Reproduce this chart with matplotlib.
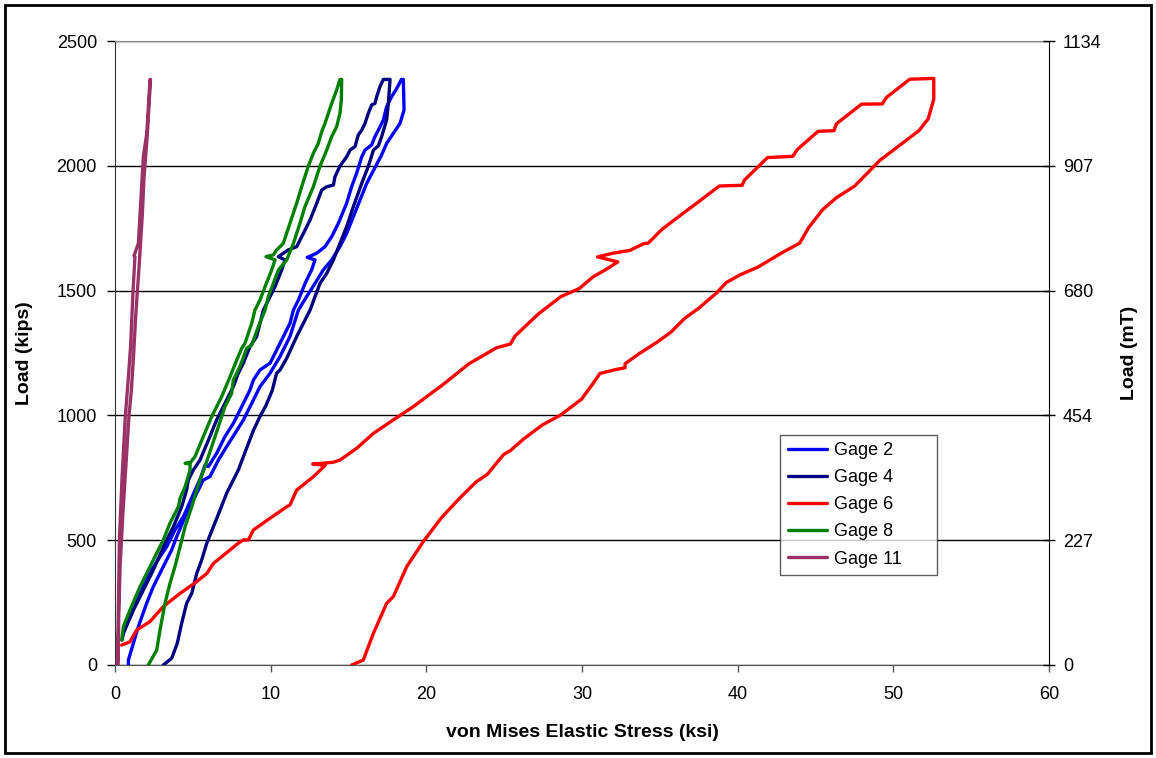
import matplotlib
matplotlib.use("Agg")
import matplotlib.pyplot as plt
from matplotlib.patches import Rectangle

plt.rcParams["font.family"] = ["Liberation Sans", "DejaVu Sans"]

# ---- data: (stress ksi, load kips), loading then unloading ----
gage2_stress = [0.54, 0.75, 1.28, 1.82, 2.36, 2.89, 3.32, 3.85, 4.39, 5.0, 5.5, 5.78, 6.0, 6.53,
                7.06, 7.6, 8.14, 8.67, 8.89, 9.31, 9.96, 10.6, 11.24, 11.46, 11.78, 12.21, 12.63,
                12.85, 12.35, 12.96, 13.49, 13.92, 14.35, 14.88, 15.2, 15.52, 15.85, 16.06, 16.49,
                16.7, 16.92, 17.24, 17.45, 17.77, 18.1, 18.4,
                18.52, 18.57, 18.31, 17.88, 17.45, 17.1, 16.75, 16.17, 15.74, 15.31, 14.88, 14.45,
                13.92, 13.38, 12.85, 12.31, 11.78, 11.24, 10.6, 9.96, 9.31, 8.78, 8.25, 7.71, 7.17,
                6.64, 6.1, 5.67, 5.25, 4.93, 4.5, 3.96, 3.64, 3.1, 2.46, 2.03, 1.5, 1.18, 0.86, 0.86]
gage2_load = [127, 180, 247, 314, 381, 434, 474, 541, 594, 680, 750, 801, 795, 848,
              915, 968, 1035, 1102, 1142, 1182, 1209, 1289, 1369, 1422, 1462, 1529, 1583,
              1623, 1633, 1650, 1676, 1716, 1770, 1850, 1916, 1970, 2036, 2063, 2084,
              2117, 2143, 2184, 2237, 2277, 2310, 2346,
              2346, 2224, 2170, 2130, 2090, 2040, 1999, 1930, 1863, 1796, 1729, 1676,
              1623, 1583, 1529, 1476, 1422, 1316, 1236, 1169, 1115, 1048, 982, 928, 875,
              821, 755, 741, 688, 648, 594, 514, 461, 394, 314, 247, 154, 87, 20, 0]

gage4_stress = [0.45, 0.54, 1.18, 1.82, 2.46, 3.21, 3.75, 4.28, 4.6, 4.71, 5.03, 5.46, 6.0, 6.53,
                7.17, 7.6, 7.92, 8.24, 8.67, 9.1, 9.53, 9.85, 10.28, 10.71, 10.92, 10.49, 11.13,
                11.67, 12.1, 12.53, 12.96, 13.28, 13.6, 14.03, 14.13, 14.45, 14.88, 15.1, 15.42,
                15.63, 15.85, 16.06, 16.27, 16.49, 16.7, 16.81, 17.02, 17.24,
                17.67, 17.56, 17.45, 17.13, 16.92, 16.6, 16.28, 15.85, 15.31, 14.88, 14.45, 14.03,
                13.6, 13.17, 12.85, 12.53, 12.1, 11.67, 11.03, 10.6, 10.38, 10.1, 9.7, 9.31, 8.89,
                8.4, 7.92, 7.6, 7.17, 6.75, 6.32, 5.89, 5.57, 5.25, 4.93, 4.6, 4.28, 4.0, 3.64, 3.1]
gage4_load = [100, 127, 220, 300, 381, 487, 554, 634, 701, 741, 781, 821, 901, 982,
              1062, 1115, 1169, 1209, 1275, 1316, 1422, 1462, 1516, 1583, 1623, 1636, 1663,
              1676, 1729, 1783, 1850, 1903, 1916, 1923, 1956, 1999, 2036, 2063, 2077,
              2124, 2143, 2170, 2210, 2244, 2250, 2277, 2317, 2346,
              2346, 2250, 2184, 2117, 2080, 2063, 1999, 1930, 1836, 1756, 1689, 1623,
              1569, 1529, 1476, 1422, 1369, 1316, 1229, 1182, 1169, 1100, 1040, 995, 940,
              860, 781, 741, 688, 621, 554, 487, 421, 367, 287, 247, 167, 87, 27, 0]

gage6_stress = [0.43, 0.96, 1.39, 2.25, 3.1, 4.18, 5.25, 5.9, 6.32, 7.39, 7.92, 8.24, 8.57, 8.89,
                9.96, 11.03, 11.24, 11.67, 12.74, 13.5, 12.7, 14.0, 14.45, 15.52, 16.6, 17.88,
                19.16, 20.45, 21.0, 22.74, 24.51, 25.4, 25.7, 27.17, 28.64, 29.82, 30.71, 31.6,
                32.3, 31.0, 32.0, 33.07, 33.96, 34.25, 35.13, 36.31, 37.49, 38.82, 40.29, 40.44,
                41.03, 41.92, 43.54, 43.83, 45.16, 46.19, 46.34, 47.96, 49.29, 49.58, 51.06, 52.54,
                52.6, 52.6, 52.24, 51.65, 50.47, 49.14, 47.52, 46.34, 45.46, 44.57, 43.98, 42.8,
                41.33, 40.15, 39.26, 38.67, 37.49, 36.6, 35.72, 34.84, 33.66, 32.77, 32.77, 32.18,
                31.15, 30.71, 29.97, 28.64, 27.46, 26.28, 25.4, 24.96, 23.92, 23.19, 22.15, 20.97,
                19.8, 18.74, 17.88, 17.45, 16.6, 15.95, 15.2]
gage6_load = [80, 93, 140, 174, 234, 287, 334, 367, 407, 461, 488, 501, 501, 541,
              588, 634, 641, 701, 754, 800, 805, 812, 821, 868, 928, 982,
              1035, 1095, 1120, 1207, 1271, 1286, 1318, 1405, 1476, 1508, 1555, 1587,
              1615, 1635, 1650, 1661, 1688, 1690, 1745, 1801, 1856, 1919, 1922, 1943,
              1979, 2033, 2038, 2065, 2138, 2141, 2168, 2247, 2248, 2275, 2347, 2350,
              2350, 2267, 2188, 2141, 2085, 2022, 1919, 1872, 1824, 1753, 1690, 1650,
              1595, 1563, 1532, 1492, 1429, 1389, 1334, 1294, 1247, 1207, 1191, 1184,
              1168, 1128, 1065, 1002, 962, 907, 859, 843, 764, 733, 669, 590,
              494, 394, 274, 247, 127, 20, 0]

gage8_stress = [0.43, 0.54, 0.96, 1.61, 2.25, 2.78, 3.1, 3.53, 4.07, 4.18, 4.5, 4.82, 4.82, 4.5,
                4.85, 5.14, 5.67, 6.21, 6.85, 7.39, 7.82, 8.14, 8.35, 8.78, 8.99, 9.31, 9.64,
                10.06, 10.28, 9.7, 10.17, 10.39, 10.81, 11.24, 11.67, 11.99, 12.42, 12.74, 13.06,
                13.28, 13.49, 13.81, 13.92, 14.24, 14.45,
                14.56, 14.54, 14.45, 14.24, 13.92, 13.6, 13.17, 12.74, 12.2, 11.88, 11.46, 11.03,
                10.49, 10.17, 9.85, 9.64, 9.21, 8.78, 8.46, 8.03, 7.6, 7.49, 7.06, 6.64, 6.21,
                5.78, 5.46, 5.25, 4.93, 4.5, 4.18, 3.85, 3.53, 3.21, 2.89, 2.68, 2.14]
gage8_load = [100, 154, 220, 314, 394, 461, 501, 568, 634, 668, 714, 781, 806, 808,
              812, 835, 915, 995, 1075, 1155, 1222, 1269, 1289, 1369, 1422, 1462, 1516,
              1582, 1623, 1636, 1643, 1663, 1689, 1770, 1850, 1916, 1999, 2050, 2090,
              2137, 2170, 2230, 2250, 2304, 2346,
              2346, 2264, 2210, 2157, 2117, 2063, 1999, 1916, 1836, 1770, 1689, 1623,
              1582, 1529, 1476, 1422, 1356, 1282, 1269, 1196, 1142, 1088, 1035, 955, 875,
              795, 741, 701, 634, 554, 474, 394, 327, 247, 140, 60, 0]

gage11_stress = [0.15, 0.2, 0.28, 0.45, 0.66, 0.86, 1.0, 1.15, 1.28, 1.22, 1.5, 1.71, 1.82,
                 2.04, 2.25, 2.28, 2.08, 1.86, 1.75, 1.55, 1.33, 1.2, 1.05, 0.9, 0.7, 0.5,
                 0.33, 0.24, 0.2]
gage11_load = [0, 150, 500, 750, 995, 1155, 1275, 1489, 1636, 1640, 1689, 1916, 2037,
               2130, 2346, 2346, 2130, 1950, 1800, 1600, 1400, 1250, 1100, 1000, 800, 600,
               400, 200, 0]

series = [
    ("Gage 2", gage2_stress, gage2_load, "#0000FF"),
    ("Gage 4", gage4_stress, gage4_load, "#000080"),
    ("Gage 6", gage6_stress, gage6_load, "#FF0000"),
    ("Gage 8", gage8_stress, gage8_load, "#008000"),
    ("Gage 11", gage11_stress, gage11_load, "#993366"),
]

left_ticks = [0, 500, 1000, 1500, 2000, 2500]
right_labels = ["0", "227", "454", "680", "907", "1134"]

fig = plt.figure(figsize=(11.56, 7.58), dpi=100)
ax = fig.add_axes([0.0995, 0.1227, 0.8079, 0.8232])

for name, xs, ys, color in series:
    ax.plot(xs, ys, color=color, lw=2.4, label=name, solid_joinstyle="round",
            solid_capstyle="round", zorder=3)

ax.set_xlim(0, 60)
ax.set_ylim(0, 2500)
ax.set_xticks(range(0, 61, 10))
ax.set_yticks(left_ticks)
ax.yaxis.grid(True, color="black", lw=1)
ax.set_axisbelow(True)

ax.spines["top"].set_color("#888888")
ax.spines["bottom"].set_color("#555555")
ax.spines["left"].set_color("#333333")
ax.spines["right"].set_visible(False)

ax.tick_params(axis="y", direction="out", length=6, width=1, pad=7, labelsize=13)
ax.tick_params(axis="x", direction="out", length=5, width=1, pad=10, labelsize=13,
               color="#555555")

ax.set_xlabel("von Mises Elastic Stress (ksi)", fontsize=14, fontweight="bold", labelpad=15)
ax.set_ylabel("Load (kips)", fontsize=14, fontweight="bold", labelpad=17)

ax2 = ax.twinx()
ax2.set_ylim(0, 2500)
ax2.set_yticks(left_ticks)
ax2.set_yticklabels(right_labels)
ax2.tick_params(axis="y", direction="inout", length=8, width=1, pad=6, labelsize=13)
ax2.spines["right"].set_color("black")
for side in ["top", "left", "bottom"]:
    ax2.spines[side].set_visible(False)
ax2.set_ylabel("Load (mT)", fontsize=14, fontweight="bold", labelpad=14)

leg = ax.legend(loc="lower left", bbox_to_anchor=(0.712, 0.144, 0.168, 0.22), mode="expand",
                fontsize=13, frameon=True, fancybox=False, edgecolor="#333333",
                handlelength=2.2, handletextpad=0.35, labelspacing=0.56, borderpad=0.42,
                borderaxespad=0)
leg.get_frame().set_linewidth(1)
leg.set_zorder(5)

fig.patches.append(Rectangle((0.004, 0.006), 0.992, 0.988, transform=fig.transFigure,
                             fill=False, edgecolor="black", lw=2))

fig.savefig("out.png", dpi=100)
